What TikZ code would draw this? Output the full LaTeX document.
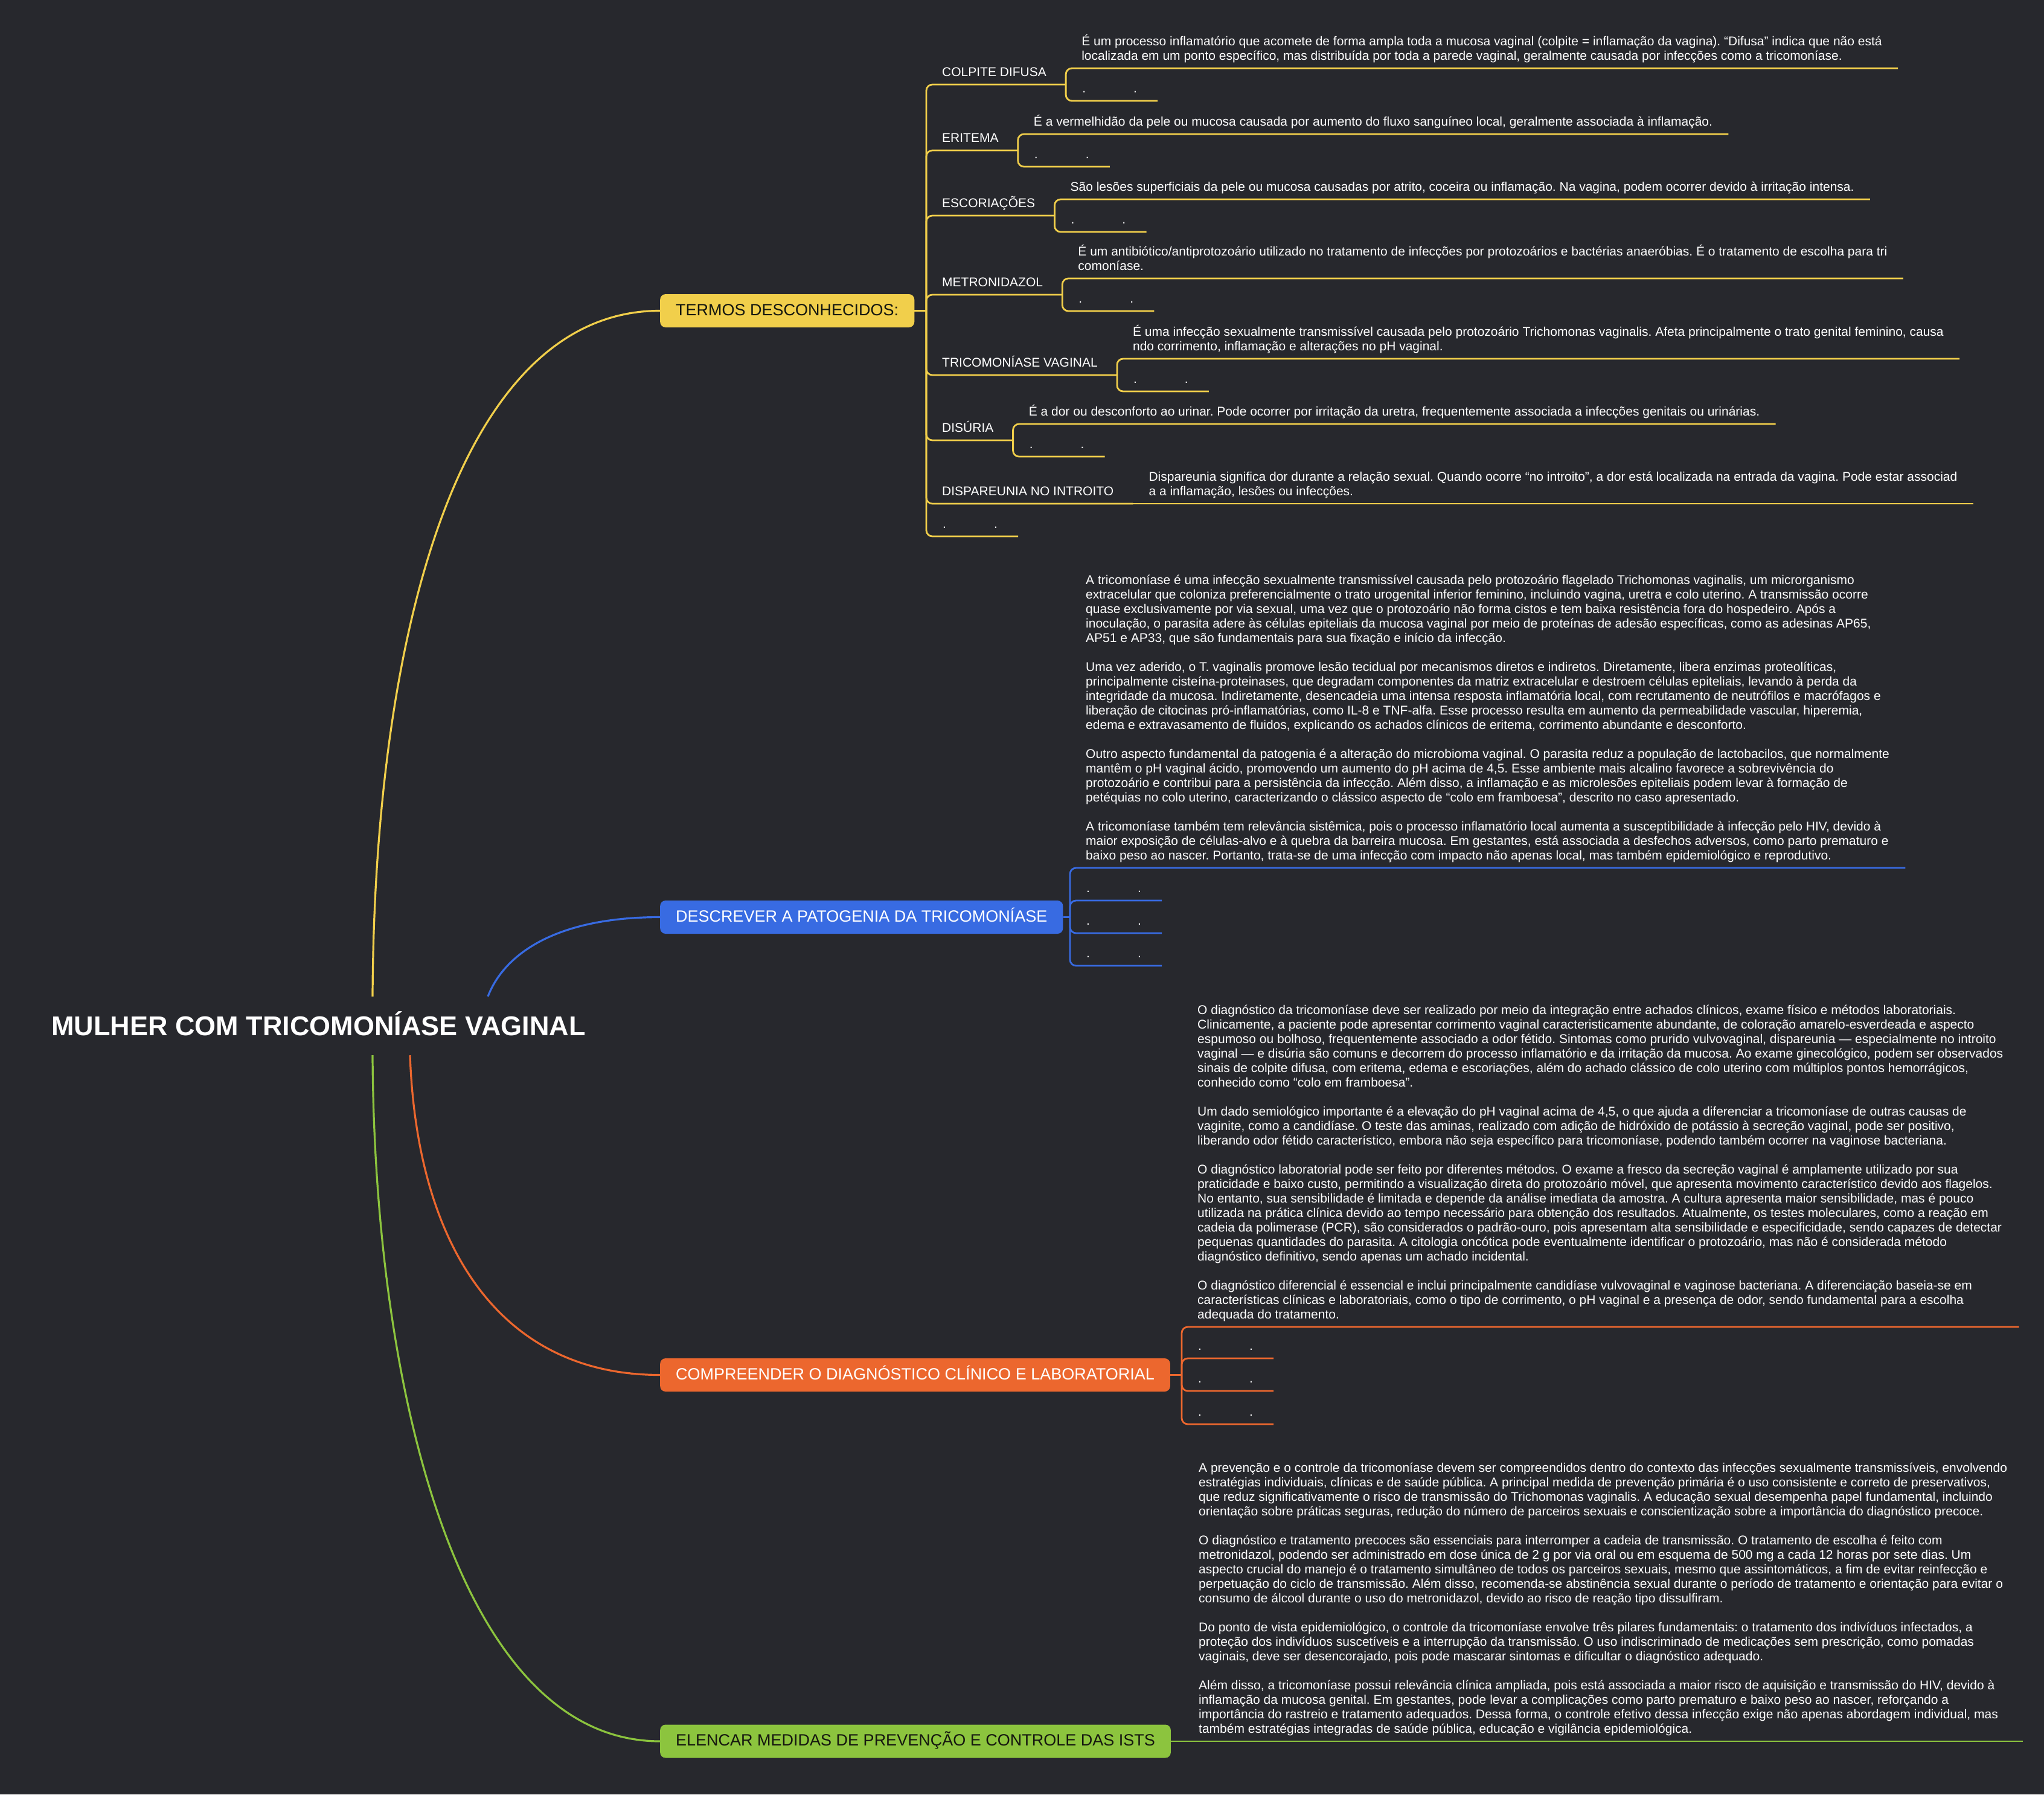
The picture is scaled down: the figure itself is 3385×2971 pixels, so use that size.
\documentclass[tikz,border=0pt]{standalone}
\usepackage{fontspec}
\setmainfont{Liberation Sans}
\usetikzlibrary{calc}
\definecolor{bgc}{HTML}{27282D}
\definecolor{cyel}{HTML}{F1CF4B}
\definecolor{cblu}{HTML}{386BE2}
\definecolor{cora}{HTML}{EC672E}
\definecolor{cgre}{HTML}{8CC43E}
\definecolor{ink}{HTML}{15170F}
\frenchspacing
\newcommand\fsm{\fontsize{21}{24}\selectfont\frenchspacing}
\newcommand\lstrut{\rule[-4.5pt]{0pt}{4.5pt}}
\newcommand\twodots{\hspace*{27pt}.\hspace*{79pt}.\hspace*{34pt}\lstrut}
\begin{document}
\begin{tikzpicture}[x=1pt,y=-1pt,
  every node/.style={font=\fsm, text=white},
  lbl/.style={anchor=south west, inner xsep=0pt, inner ysep=9pt},
  txt/.style={anchor=south west, inner xsep=26pt, inner ysep=9pt, align=left},
  dotn/.style={anchor=south west, inner xsep=0pt, inner ysep=9pt},
  brn/.style={anchor=west, rounded corners=9pt, inner xsep=26pt, inner ysep=16pt, text height=19pt, text depth=4pt, font=\fontsize{27}{30}\selectfont},
  trunk/.style={line width=3.2pt},
  twig/.style={line width=2.8pt, rounded corners=10pt}]
\useasboundingbox (0,0) rectangle (3385,2971);
\fill[bgc] (0,0) rectangle (3385,2971);

% root and main branches
\node[font=\fontsize{45}{50}\selectfont\bfseries, inner ysep=32.5pt, text height=32pt, text depth=0pt] (root) at (527.5,1698.5) {MULHER COM TRICOMONÍASE VAGINAL};
\node[brn, fill=cyel, text=ink] (termos) at (1093,514.5) {TERMOS DESCONHECIDOS:};
\node[brn, fill=cblu] (desc) at (1093,1518.5) {DESCREVER A PATOGENIA DA TRICOMONÍASE};
\node[brn, fill=cora] (comp) at (1093,2276.5) {COMPREENDER O DIAGNÓSTICO CLÍNICO E LABORATORIAL};
\node[brn, fill=cgre, text=ink] (elen) at (1093,2883) {ELENCAR MEDIDAS DE PREVENÇÃO E CONTROLE DAS ISTS};

\draw[trunk, cyel] ([xshift=89.5pt]root.north) .. controls +(3,-600) and +(-333,0) .. (termos.west);
\draw[trunk, cblu] ([xshift=280.5pt]root.north) .. controls +(27,-70) and +(-173,0) .. (desc.west);
\draw[trunk, cora] ([xshift=151.5pt]root.south) .. controls +(11,305) and +(-273,0) .. (comp.west);
\draw[trunk, cgre] ([xshift=89.5pt]root.south) .. controls +(3,555) and +(-333,0) .. (elen.west);

% ---------- TERMOS DESCONHECIDOS ----------
\coordinate (tsp) at (1534,514.5);
\draw[twig, cyel] (termos.east) -- (tsp);

\node[lbl] (t1) at (1534,140) {\hspace*{26pt}COLPITE DIFUSA\hspace*{32pt}\lstrut};
\node[txt] (t1d) at ($(t1.south east)+(0,-27)$) {É um processo inflamatório que acomete de forma ampla toda a mucosa vaginal (colpite = inflamação da vagina). “Difusa” indica que não está\\localizada em um ponto específico, mas distribuída por toda a parede vaginal, geralmente causada por infecções como a tricomoníase.\lstrut};
\node[dotn] (t1x) at ($(t1.south east)+(0,27)$) {\twodots};

\node[lbl] (t2) at (1534,249) {\hspace*{26pt}ERITEMA\hspace*{32pt}\lstrut};
\node[txt] (t2d) at ($(t2.south east)+(0,-27)$) {É a vermelhidão da pele ou mucosa causada por aumento do fluxo sanguíneo local, geralmente associada à inflamação.\lstrut};
\node[dotn] (t2x) at ($(t2.south east)+(0,27)$) {\twodots};

\node[lbl] (t3) at (1534,357) {\hspace*{26pt}ESCORIAÇÕES\hspace*{32pt}\lstrut};
\node[txt] (t3d) at ($(t3.south east)+(0,-27)$) {São lesões superficiais da pele ou mucosa causadas por atrito, coceira ou inflamação. Na vagina, podem ocorrer devido à irritação intensa.\lstrut};
\node[dotn] (t3x) at ($(t3.south east)+(0,27)$) {\twodots};

\node[lbl] (t4) at (1534,488) {\hspace*{26pt}METRONIDAZOL\hspace*{32pt}\lstrut};
\node[txt] (t4d) at ($(t4.south east)+(0,-27)$) {É um antibiótico/antiprotozoário utilizado no tratamento de infecções por protozoários e bactérias anaeróbias. É o tratamento de escolha para tri\\comoníase.\lstrut};
\node[dotn] (t4x) at ($(t4.south east)+(0,27)$) {\twodots};

\node[lbl] (t5) at (1534,621) {\hspace*{26pt}TRICOMONÍASE VAGINAL\hspace*{32pt}\lstrut};
\node[txt] (t5d) at ($(t5.south east)+(0,-27)$) {É uma infecção sexualmente transmissível causada pelo protozoário Trichomonas vaginalis. Afeta principalmente o trato genital feminino, causa\\ndo corrimento, inflamação e alterações no pH vaginal.\lstrut};
\node[dotn] (t5x) at ($(t5.south east)+(0,27)$) {\twodots};

\node[lbl] (t6) at (1534,729) {\hspace*{26pt}DISÚRIA\hspace*{32pt}\lstrut};
\node[txt] (t6d) at ($(t6.south east)+(0,-27)$) {É a dor ou desconforto ao urinar. Pode ocorrer por irritação da uretra, frequentemente associada a infecções genitais ou urinárias.\lstrut};
\node[dotn] (t6x) at ($(t6.south east)+(0,27)$) {\twodots};

\node[lbl] (t7) at (1534,834) {\hspace*{26pt}DISPAREUNIA NO INTROITO\hspace*{32pt}\lstrut};
\node[txt] (t7d) at (t7.south east) {Dispareunia significa dor durante a relação sexual. Quando ocorre “no introito”, a dor está localizada na entrada da vagina. Pode estar associad\\a a inflamação, lesões ou infecções.\lstrut};

\node[dotn] (t8) at (1534,888) {\twodots};

\foreach \n in {t1,t2,t3,t4,t5,t6}{
  \draw[twig, cyel] (tsp) |- (\n.south east);
  \draw[twig, cyel] (\n.south east) |- (\n d.south east);
  \draw[twig, cyel] (\n.south east) |- (\n x.south east);
}
\draw[twig, cyel] (tsp) |- (t7.south east);
\draw[twig, cyel] (t7.south east) -- (t7d.south east);
\draw[twig, cyel] (tsp) |- (t8.south east);

% ---------- PATOGENIA ----------
\coordinate (bsp) at (1772,1518.5);
\draw[twig, cblu] (desc.east) -- (bsp);
\node[txt] (pat) at (1772,1437) {A tricomoníase é uma infecção sexualmente transmissível causada pelo protozoário flagelado Trichomonas vaginalis, um microrganismo\\
extracelular que coloniza preferencialmente o trato urogenital inferior feminino, incluindo vagina, uretra e colo uterino. A transmissão ocorre\\
quase exclusivamente por via sexual, uma vez que o protozoário não forma cistos e tem baixa resistência fora do hospedeiro. Após a\\
inoculação, o parasita adere às células epiteliais da mucosa vaginal por meio de proteínas de adesão específicas, como as adesinas AP65,\\
AP51 e AP33, que são fundamentais para sua fixação e início da infecção.\\[24pt]
Uma vez aderido, o T. vaginalis promove lesão tecidual por mecanismos diretos e indiretos. Diretamente, libera enzimas proteolíticas,\\
principalmente cisteína-proteinases, que degradam componentes da matriz extracelular e destroem células epiteliais, levando à perda da\\
integridade da mucosa. Indiretamente, desencadeia uma intensa resposta inflamatória local, com recrutamento de neutrófilos e macrófagos e\\
liberação de citocinas pró-inflamatórias, como IL-8 e TNF-alfa. Esse processo resulta em aumento da permeabilidade vascular, hiperemia,\\
edema e extravasamento de fluidos, explicando os achados clínicos de eritema, corrimento abundante e desconforto.\\[24pt]
Outro aspecto fundamental da patogenia é a alteração do microbioma vaginal. O parasita reduz a população de lactobacilos, que normalmente\\
mantêm o pH vaginal ácido, promovendo um aumento do pH acima de 4,5. Esse ambiente mais alcalino favorece a sobrevivência do\\
protozoário e contribui para a persistência da infecção. Além disso, a inflamação e as microlesões epiteliais podem levar à formação de\\
petéquias no colo uterino, caracterizando o clássico aspecto de “colo em framboesa”, descrito no caso apresentado.\\[24pt]
A tricomoníase também tem relevância sistêmica, pois o processo inflamatório local aumenta a susceptibilidade à infecção pelo HIV, devido à\\
maior exposição de células-alvo e à quebra da barreira mucosa. Em gestantes, está associada a desfechos adversos, como parto prematuro e\\
baixo peso ao nascer. Portanto, trata-se de uma infecção com impacto não apenas local, mas também epidemiológico e reprodutivo.\lstrut};
\node[dotn] (b1) at (1772,1491) {\twodots};
\node[dotn] (b2) at (1772,1545) {\twodots};
\node[dotn] (b3) at (1772,1599) {\twodots};
\foreach \n in {pat,b1,b2,b3}{\draw[twig, cblu] (bsp) |- (\n.south east);}

% ---------- DIAGNOSTICO ----------
\coordinate (osp) at (1957,2276.5);
\draw[twig, cora] (comp.east) -- (osp);
\node[txt] (dia) at (1957,2197) {O diagnóstico da tricomoníase deve ser realizado por meio da integração entre achados clínicos, exame físico e métodos laboratoriais.\\
Clinicamente, a paciente pode apresentar corrimento vaginal caracteristicamente abundante, de coloração amarelo-esverdeada e aspecto\\
espumoso ou bolhoso, frequentemente associado a odor fétido. Sintomas como prurido vulvovaginal, dispareunia — especialmente no introito\\
vaginal — e disúria são comuns e decorrem do processo inflamatório e da irritação da mucosa. Ao exame ginecológico, podem ser observados\\
sinais de colpite difusa, com eritema, edema e escoriações, além do achado clássico de colo uterino com múltiplos pontos hemorrágicos,\\
conhecido como “colo em framboesa”.\\[24pt]
Um dado semiológico importante é a elevação do pH vaginal acima de 4,5, o que ajuda a diferenciar a tricomoníase de outras causas de\\
vaginite, como a candidíase. O teste das aminas, realizado com adição de hidróxido de potássio à secreção vaginal, pode ser positivo,\\
liberando odor fétido característico, embora não seja específico para tricomoníase, podendo também ocorrer na vaginose bacteriana.\\[24pt]
O diagnóstico laboratorial pode ser feito por diferentes métodos. O exame a fresco da secreção vaginal é amplamente utilizado por sua\\
praticidade e baixo custo, permitindo a visualização direta do protozoário móvel, que apresenta movimento característico devido aos flagelos.\\
No entanto, sua sensibilidade é limitada e depende da análise imediata da amostra. A cultura apresenta maior sensibilidade, mas é pouco\\
utilizada na prática clínica devido ao tempo necessário para obtenção dos resultados. Atualmente, os testes moleculares, como a reação em\\
cadeia da polimerase (PCR), são considerados o padrão-ouro, pois apresentam alta sensibilidade e especificidade, sendo capazes de detectar\\
pequenas quantidades do parasita. A citologia oncótica pode eventualmente identificar o protozoário, mas não é considerada método\\
diagnóstico definitivo, sendo apenas um achado incidental.\\[24pt]
O diagnóstico diferencial é essencial e inclui principalmente candidíase vulvovaginal e vaginose bacteriana. A diferenciação baseia-se em\\
características clínicas e laboratoriais, como o tipo de corrimento, o pH vaginal e a presença de odor, sendo fundamental para a escolha\\
adequada do tratamento.\lstrut};
\node[dotn] (o1) at (1957,2249) {\twodots};
\node[dotn] (o2) at (1957,2303) {\twodots};
\node[dotn] (o3) at (1957,2358) {\twodots};
\foreach \n in {dia,o1,o2,o3}{\draw[twig, cora] (osp) |- (\n.south east);}

% ---------- PREVENCAO ----------
\node[txt] (prev) at (1959,2883) {A prevenção e o controle da tricomoníase devem ser compreendidos dentro do contexto das infecções sexualmente transmissíveis, envolvendo\\
estratégias individuais, clínicas e de saúde pública. A principal medida de prevenção primária é o uso consistente e correto de preservativos,\\
que reduz significativamente o risco de transmissão do Trichomonas vaginalis. A educação sexual desempenha papel fundamental, incluindo\\
orientação sobre práticas seguras, redução do número de parceiros sexuais e conscientização sobre a importância do diagnóstico precoce.\\[24pt]
O diagnóstico e tratamento precoces são essenciais para interromper a cadeia de transmissão. O tratamento de escolha é feito com\\
metronidazol, podendo ser administrado em dose única de 2 g por via oral ou em esquema de 500 mg a cada 12 horas por sete dias. Um\\
aspecto crucial do manejo é o tratamento simultâneo de todos os parceiros sexuais, mesmo que assintomáticos, a fim de evitar reinfecção e\\
perpetuação do ciclo de transmissão. Além disso, recomenda-se abstinência sexual durante o período de tratamento e orientação para evitar o\\
consumo de álcool durante o uso do metronidazol, devido ao risco de reação tipo dissulfiram.\\[24pt]
Do ponto de vista epidemiológico, o controle da tricomoníase envolve três pilares fundamentais: o tratamento dos indivíduos infectados, a\\
proteção dos indivíduos suscetíveis e a interrupção da transmissão. O uso indiscriminado de medicações sem prescrição, como pomadas\\
vaginais, deve ser desencorajado, pois pode mascarar sintomas e dificultar o diagnóstico adequado.\\[24pt]
Além disso, a tricomoníase possui relevância clínica ampliada, pois está associada a maior risco de aquisição e transmissão do HIV, devido à\\
inflamação da mucosa genital. Em gestantes, pode levar a complicações como parto prematuro e baixo peso ao nascer, reforçando a\\
importância do rastreio e tratamento adequados. Dessa forma, o controle efetivo dessa infecção exige não apenas abordagem individual, mas\\
também estratégias integradas de saúde pública, educação e vigilância epidemiológica.\lstrut};
\draw[twig, cgre] (elen.east) -- (prev.south east);
\end{tikzpicture}
\end{document}
